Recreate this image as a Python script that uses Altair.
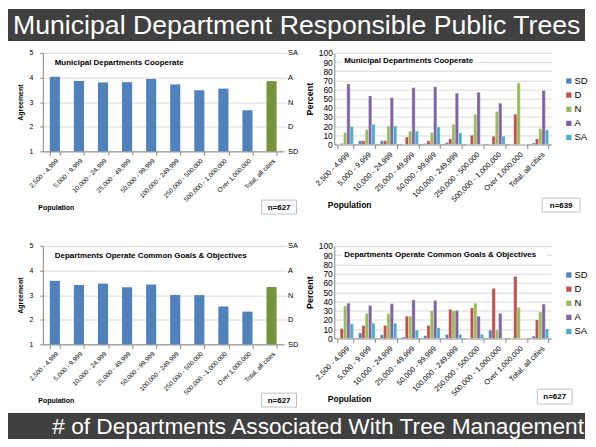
import altair as alt
import pandas as pd

main_title = "Municipal Department Responsible Public Trees"
footer_title = "# of Departments Associated With Tree Management"

categories = ["2,500 - 4,999", "5,000 - 9,999", "10,000 - 24,999", "25,000 - 49,999",
              "50,000 - 99,999", "100,000 - 249,999", "250,000 - 500,000",
              "500,000 - 1,000,000", "Over 1,000,000", "Total, all cities"]
groups = ["city"] * 9 + ["total"]

coop_mean = [4.03, 3.86, 3.80, 3.81, 3.94, 3.72, 3.48, 3.55, 2.67, 3.85]
goals_mean = [3.58, 3.41, 3.47, 3.32, 3.43, 3.01, 3.00, 2.54, 2.33, 3.33]

agree_levels = [1, 2, 3, 4, 5]

responses = ["SD", "D", "N", "A", "SA"]
response_colors = ["#4F81BD", "#C0504D", "#9BBB59", "#8064A2", "#4BACC6"]

coop_SD = [0, 4, 4, 0, 1, 2, 0, 0, 0, 1.5]
coop_D = [1, 4, 4, 8, 4, 6, 10, 9, 33, 6]
coop_N = [13, 16, 20, 14.5, 13, 22, 33, 36, 67, 17]
coop_A = [66, 53, 51, 62, 63, 56, 57, 45, 0, 59]
coop_SA = [19.5, 22, 20, 14.5, 19, 12.5, 0, 9, 0, 16]

goals_SD = [0, 6, 4, 1.4, 3, 4.3, 0, 9, 0, 2.5]
goals_D = [10.7, 14, 14, 24, 14, 31.5, 33, 54, 67, 20]
goals_N = [35, 27, 27, 24, 30, 30, 38, 9, 33.5, 28.5]
goals_A = [38, 35.5, 37.5, 41.5, 41, 30, 24, 27, 0, 37]
goals_SA = [15.7, 16.4, 16.4, 9, 11.4, 4.3, 4.6, 0, 0, 10.4]

FONT = "Liberation Sans"
GRID = "#D9D9D9"
AXIS = "#868686"
DARK = "#404040"
LEFT = 35      # how far the dark bars reach left of the panels' plot origin
BAR_RIGHT = 545

INDEP = dict(x="independent", y="independent", xOffset="independent", color="independent")


def annotations(title, n_label, tx, ty, bx, by, bw, bh, title_bg=None):
    layers = []
    if title_bg is not None:
        x0, x1, y0, y1 = title_bg
        layers.append(
            alt.Chart(pd.DataFrame({"k": [0]})).mark_rect(fill="white", strokeWidth=0).encode(
                x=alt.value(x0), x2=alt.value(x1), y=alt.value(y0), y2=alt.value(y1))
        )
    layers.append(
        alt.Chart(pd.DataFrame({"t": [title]})).mark_text(
            align="left", baseline="middle", fontSize=8, fontWeight="bold", font=FONT, color="#000000"
        ).encode(text="t:N", x=alt.value(tx), y=alt.value(ty))
    )
    layers.append(
        alt.Chart(pd.DataFrame({"k": [0]})).mark_rect(fill="white", stroke="#BFBFBF", strokeWidth=1).encode(
            x=alt.value(bx), x2=alt.value(bx + bw), y=alt.value(by), y2=alt.value(by + bh))
    )
    layers.append(
        alt.Chart(pd.DataFrame({"t": [n_label]})).mark_text(
            align="center", baseline="middle", fontSize=8, fontWeight="bold", font=FONT, color="#000000"
        ).encode(text="t:N", x=alt.value(bx + bw / 2), y=alt.value(by + bh / 2 + 0.5))
    )
    return layers


def mean_panel(values, title, n_label, width, height):
    df = pd.DataFrame({"Population": categories, "Agreement": values, "Group": groups})
    yscale = alt.Scale(domain=[1, 5], nice=False, zero=False)
    bars = alt.Chart(df).mark_bar().encode(
        x=alt.X("Population:N", sort=categories, title="Population",
                scale=alt.Scale(paddingInner=0.58, paddingOuter=0.29),
                axis=alt.Axis(labelAngle=-45, labelFontSize=6.5, tickBand="extent", tickSize=4,
                              labelPadding=2, titleFontSize=7, titleFontWeight="bold",
                              titleAnchor="start", titleAlign="left", titleX=-5,
                              titleY=56, titleBaseline="middle")),
        y=alt.Y("Agreement:Q", scale=yscale,
                axis=alt.Axis(values=agree_levels, format="d", tickSize=3, labelFontSize=7,
                              labelPadding=7, labelOverlap=False, grid=True, gridColor=GRID,
                              title="Agreement", titleFontSize=7, titleFontWeight="bold",
                              titlePadding=6)),
        y2=alt.datum(1),
        color=alt.Color("Group:N", scale=alt.Scale(domain=["city", "total"], range=["#4F81BD", "#77933C"]),
                        legend=None),
    )
    right = alt.Chart(df).mark_point(opacity=0).encode(
        y=alt.Y("Agreement:Q", scale=yscale,
                axis=alt.Axis(orient="right", values=agree_levels, grid=False, domain=False,
                              tickSize=3, tickColor=GRID, labelFontSize=7.5, labelPadding=1,
                              labelOverlap=False,
                              labelExpr="['', 'SD', 'D', 'N', 'A', 'SA'][datum.value]", title=None)),
    )
    ann = annotations(title, n_label, 12, 10, 220, height + 49, 35, 14)
    return alt.layer(bars, right, *ann).resolve_scale(y="shared").resolve_axis(y="independent").properties(
        width=width, height=height)


def dist_panel(series, title, n_label, width, height, title_bg, legend_y, nbox):
    rows = []
    for resp, vals in zip(responses, series):
        for cat, v in zip(categories, vals):
            rows.append({"Population": cat, "Response": resp, "Percent": v})
    df = pd.DataFrame(rows)
    bars = alt.Chart(df).mark_bar(stroke="white", strokeWidth=0.3).encode(
        x=alt.X("Population:N", sort=categories, title="Population",
                scale=alt.Scale(paddingInner=0.24, paddingOuter=0.12),
                axis=alt.Axis(labelAngle=-45, labelFontSize=7.5, tickBand="extent", tickSize=4,
                              labelPadding=2, titleFontSize=8.5, titleFontWeight="bold",
                              titleAnchor="start", titleAlign="left", titleX=-7,
                              titleY=60, titleBaseline="middle")),
        xOffset=alt.XOffset("Response:N", sort=responses, scale=alt.Scale(domain=responses)),
        y=alt.Y("Percent:Q", scale=alt.Scale(domain=[0, 100], nice=False),
                axis=alt.Axis(values=list(range(0, 101, 10)), ticks=False, labelFontSize=8.5,
                              labelPadding=2, labelOverlap=False, grid=True, gridColor=GRID,
                              title="Percent", titleFontSize=9, titleFontWeight="bold", titlePadding=4)),
        color=alt.Color("Response:N", sort=responses,
                        scale=alt.Scale(domain=responses, range=response_colors),
                        legend=alt.Legend(title=None, orient="none", legendX=width + 13, legendY=legend_y,
                                          symbolType="square", symbolSize=28, symbolStrokeWidth=0,
                                          labelFontSize=9.5, labelFont=FONT, rowPadding=3.2,
                                          labelOffset=1)),
    )
    ann = annotations(title, n_label, title_bg[0] + 2, (title_bg[2] + title_bg[3]) / 2, nbox[0], nbox[1],
                      nbox[2], nbox[3], title_bg=title_bg)
    return alt.layer(bars, *ann).properties(width=width, height=height)


def banner(text, height, font_size, align, tx, ty):
    bg = alt.Chart(pd.DataFrame({"k": [0]})).mark_rect(fill=DARK, strokeWidth=0).encode(
        x=alt.value(-LEFT), x2=alt.value(BAR_RIGHT), y=alt.value(0), y2=alt.value(height))
    txt = alt.Chart(pd.DataFrame({"t": [text]})).mark_text(
        align=align, baseline="alphabetic", fontSize=font_size, color="white", font=FONT
    ).encode(text="t:N", x=alt.value(tx), y=alt.value(ty))
    return alt.layer(bg, txt).properties(width=BAR_RIGHT, height=height)


c1 = mean_panel(coop_mean, "Municipal Departments Cooperate", "n=627", 242, 99)
c2 = dist_panel([coop_SD, coop_D, coop_N, coop_A, coop_SA], "Municipal Departments Cooperate", "n=639",
                218, 92, (8, 144, 3, 14), 23.5, (209, 146, 38, 14))
c3 = mean_panel(goals_mean, "Departments Operate Common Goals & Objectives", "n=627", 242, 99)
c4 = dist_panel([goals_SD, goals_D, goals_N, goals_A, goals_SA], "Departments Operate Common Goals & Objectives",
                "n=627", 218, 93, (8, 214, 3, 15), 24.5, (204, 144, 35, 15))

top_bar = banner(main_title, 32, 26.8, "left", -LEFT + 5, 25)
bottom_bar = banner(footer_title, 26, 22.8, "right", BAR_RIGHT - 1, 21)

row1 = alt.hconcat(c1, c2, spacing=6).resolve_scale(**INDEP)
row2 = alt.hconcat(c3, c4, spacing=6).resolve_scale(**INDEP)
body = alt.vconcat(row1, row2, spacing=27).resolve_scale(**INDEP)

upper = alt.vconcat(top_bar, body, spacing=8).resolve_scale(**INDEP)
chart = alt.vconcat(upper, bottom_bar, spacing=5).resolve_scale(**INDEP).properties(
    padding=0, background="white"
).configure(font=FONT).configure_view(strokeWidth=0).configure_axis(
    labelColor="#000000", titleColor="#000000", domainColor=AXIS, tickColor=AXIS,
    labelFont=FONT, titleFont=FONT
)

chart.save("out.html", embed_options={"renderer": "svg", "actions": False})
